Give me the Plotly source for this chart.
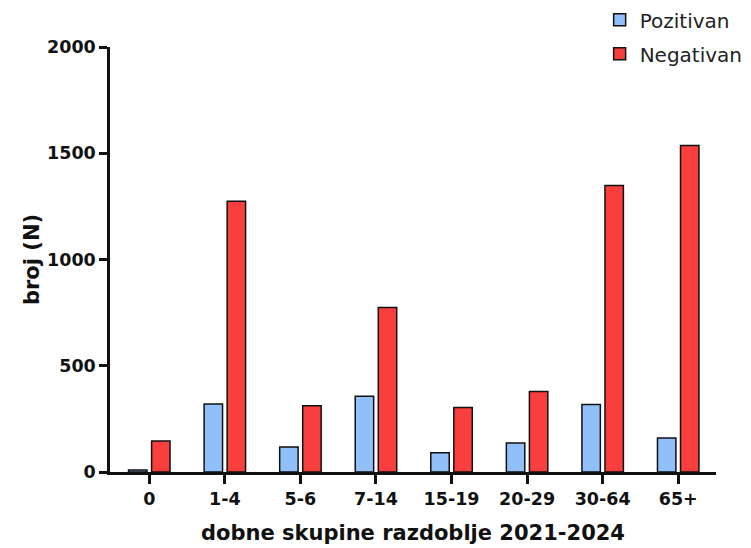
import plotly.graph_objects as go

categories = ["0", "1-4", "5-6", "7-14", "15-19", "20-29", "30-64", "65+"]
pozitivan = [10, 320, 118, 357, 91, 136, 318, 160]
negativan = [146, 1274, 312, 774, 304, 379, 1348, 1537]

FONT = "DejaVu Sans, Liberation Sans, Arial, sans-serif"

fig = go.Figure()
fig.add_trace(go.Bar(
    x=categories, y=pozitivan, name="Pozitivan", legendgroup="p",
    marker=dict(color="#90BFF9", line=dict(color="#111111", width=1.5)),
))
fig.add_trace(go.Bar(
    x=categories, y=negativan, name="Negativan", legendgroup="n",
    marker=dict(color="#F93E3E", line=dict(color="#111111", width=1.5)),
))

fig.update_layout(
    width=743, height=540,
    margin=dict(l=102, r=35, t=39, b=76, autoexpand=False),
    paper_bgcolor="white", plot_bgcolor="white",
    barmode="group", bargap=0.39, bargroupgap=0.2,
    font=dict(family=FONT, color="#111111"),
    legend=dict(
        x=0.808, y=1.11, xanchor="left", yanchor="top",
        font=dict(family=FONT, size=20, color="#222222"),
        tracegroupgap=5, bgcolor="rgba(0,0,0,0)",
    ),
    xaxis=dict(
        range=[-0.52, 7.5],
        showline=True, linecolor="#111111", linewidth=2.5,
        ticks="outside", ticklen=9, tickwidth=2.5, tickcolor="#111111",
        tickfont=dict(family=FONT, size=17.5, color="#111111", weight="bold"),
        title=dict(text="dobne skupine razdoblje 2021-2024",
                   font=dict(family=FONT, size=21, color="#111111", weight="bold"),
                   standoff=18),
        showgrid=False, zeroline=False,
    ),
    yaxis=dict(
        range=[0, 2000], tickvals=[0, 500, 1000, 1500, 2000],
        showline=True, linecolor="#111111", linewidth=2.5,
        ticks="outside", ticklen=8, tickwidth=2.5, tickcolor="#111111",
        tickfont=dict(family=FONT, size=17.5, color="#111111", weight="bold"),
        title=dict(text="broj (N)",
                   font=dict(family=FONT, size=21, color="#111111", weight="bold"),
                   standoff=2),
        showgrid=False, zeroline=False,
    ),
)

fig.write_html("out.html")
